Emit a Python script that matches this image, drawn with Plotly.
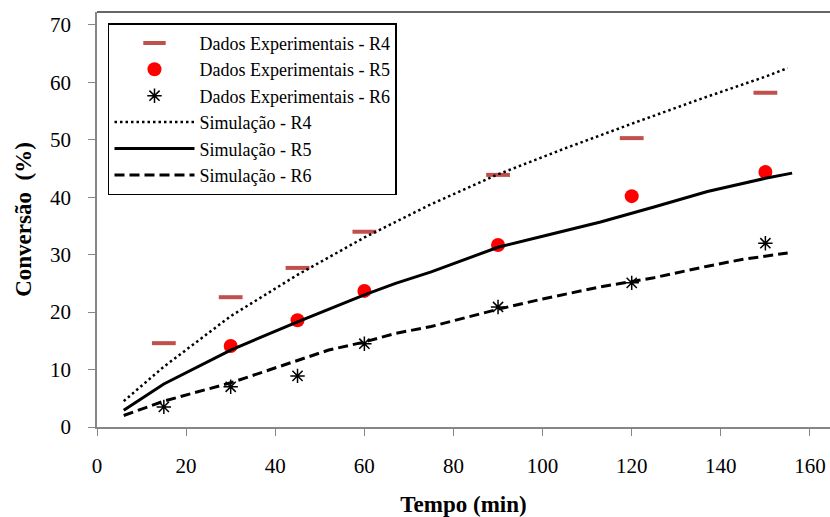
import plotly.graph_objects as go

# Experimental data
t_exp = [15, 30, 45, 60, 90, 120, 150]
r4_exp = [14.6, 22.6, 27.7, 34.0, 43.9, 50.3, 58.2]
t_exp_r5 = [30, 45, 60, 90, 120, 150]
r5_exp = [14.1, 18.6, 23.7, 31.7, 40.2, 44.4]
r6_exp = [3.5, 7.0, 8.9, 14.5, 20.9, 25.1, 32.0]

# Simulation curves
t_sim_r4 = [6, 15, 30, 45, 60, 75, 90, 105, 120, 135, 150, 155]
r4_sim = [4.5, 10.5, 19.3, 26.5, 33.0, 38.8, 44.0, 48.5, 52.8, 57.0, 61.0, 62.5]
t_sim_r5 = [6, 15, 30, 45, 60, 67, 75, 90, 100, 113, 125, 137, 150, 156]
r5_sim = [2.9, 7.5, 13.4, 18.3, 23.0, 25.0, 27.0, 31.3, 33.2, 35.7, 38.3, 41.0, 43.3, 44.2]
t_sim_r6 = [6, 15, 30, 45, 52, 60, 67, 75, 90, 100, 113, 125, 137, 145, 155]
r6_sim = [2.0, 4.5, 7.7, 11.5, 13.4, 14.8, 16.3, 17.5, 20.5, 22.3, 24.4, 26.0, 28.0, 29.2, 30.3]

x_ticks = [0, 20, 40, 60, 80, 100, 120, 140, 160]
y_ticks = [0, 10, 20, 30, 40, 50, 60, 70]

FONT = "Liberation Serif, Times New Roman, serif"

fig = go.Figure()
fig.add_trace(go.Scatter(x=t_exp, y=r4_exp, mode="markers", name="Dados Experimentais - R4",
                         marker=dict(symbol="line-ew-open", size=17, color="#C0504D",
                                     line=dict(color="#C0504D", width=4))))
fig.add_trace(go.Scatter(x=t_exp_r5, y=r5_exp, mode="markers", name="Dados Experimentais - R5",
                         marker=dict(symbol="circle", size=14, color="#FF0000")))
fig.add_trace(go.Scatter(x=t_exp, y=r6_exp, mode="markers", name="Dados Experimentais - R6",
                         marker=dict(symbol="asterisk-open", size=12, color="black",
                                     line=dict(color="black", width=1.5))))
fig.add_trace(go.Scatter(x=t_sim_r4, y=r4_sim, mode="lines", name="Simulação - R4",
                         line=dict(color="black", width=2.5, dash="2.5px,3px")))
fig.add_trace(go.Scatter(x=t_sim_r5, y=r5_sim, mode="lines", name="Simulação - R5",
                         line=dict(color="black", width=3)))
fig.add_trace(go.Scatter(x=t_sim_r6, y=r6_sim, mode="lines", name="Simulação - R6",
                         line=dict(color="black", width=3, dash="10px,5px")))

fig.update_layout(
    width=830, height=517,
    margin=dict(l=97, r=0, t=12, b=90),
    paper_bgcolor="white", plot_bgcolor="white",
    font=dict(family=FONT, color="black", size=21),
    showlegend=True,
    legend=dict(x=0.015, y=0.973, xanchor="left", yanchor="top",
                bgcolor="white", bordercolor="black", borderwidth=1.5,
                font=dict(family=FONT, size=18, color="black"),
                itemwidth=80, tracegroupgap=0),
    xaxis=dict(range=[0, 164.5], tickvals=x_ticks, showgrid=False, zeroline=False,
               automargin=False,
               showline=True, linecolor="#868686", linewidth=1.5,
               ticks="outside", ticklen=7, tickcolor="#868686",
               tickfont=dict(family=FONT, size=21, color="black"),
               ticklabelstandoff=12,
               title=dict(text="<b>Tempo (min)</b>", font=dict(family=FONT, size=23, color="black"), standoff=25)),
    yaxis=dict(range=[0, 72.26], tickvals=y_ticks, showgrid=False, zeroline=False,
               automargin=False,
               showline=True, linecolor="#868686", linewidth=1.5,
               ticks="outside", ticklen=7, tickcolor="#868686",
               tickfont=dict(family=FONT, size=21, color="black"),
               ticklabelstandoff=13,
               title=dict(text="<b>Conversão  (%)</b>", font=dict(family=FONT, size=23, color="black"), standoff=12)),
    shapes=[dict(type="line", xref="paper", yref="paper", x0=0, x1=1, y0=1, y1=1,
                 line=dict(color="#333333", width=1.5))],
)

fig.write_html("out.html")
